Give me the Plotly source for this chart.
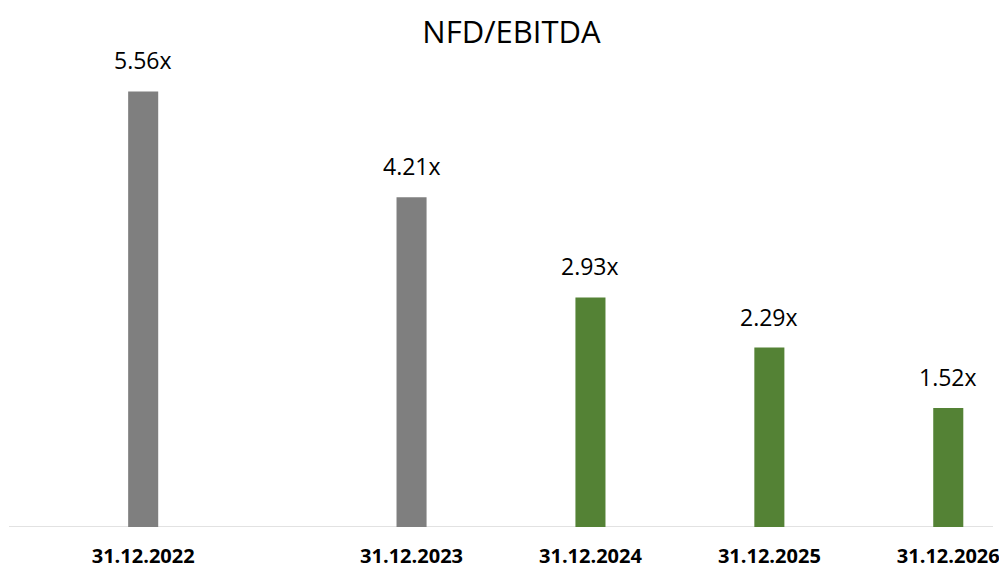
import plotly.graph_objects as go

categories = ["31.12.2022", "31.12.2023", "31.12.2024", "31.12.2025", "31.12.2026"]
positions = [0, 1.5, 2.5, 3.5, 4.5]
values = [5.56, 4.21, 2.93, 2.29, 1.52]
labels = ["5.56x", "4.21x", "2.93x", "2.29x", "1.52x"]
colors = ["#7f7f7f", "#7f7f7f", "#548235", "#548235", "#548235"]

fig = go.Figure()
fig.add_trace(go.Bar(
    x=positions, y=values, marker=dict(color=colors, line=dict(width=0)),
    width=0.168, hoverinfo="skip"
))
for xp, v, t in zip(positions, values, labels):
    fig.add_annotation(x=xp, y=v, text=t, showarrow=False, yanchor="bottom",
                       yshift=13, font=dict(size=23, color="#000000", family="Open Sans"))

fig.update_layout(
    width=1007, height=568,
    margin=dict(l=1, r=22, t=49, b=49),
    paper_bgcolor="white", plot_bgcolor="white",
    title=dict(text="NFD/EBITDA", x=0.5, xanchor="center", y=0.958, yanchor="middle",
               font=dict(size=31, color="#000000", family="Open Sans")),
    showlegend=False,
    xaxis=dict(range=[-0.75, 4.75], tickvals=positions, ticktext=categories,
               showgrid=False, zeroline=False, showline=False, ticks="",
               ticklabelstandoff=15,
               tickfont=dict(size=20, color="#000000", family="Open Sans", weight="bold")),
    yaxis=dict(range=[0, 6], visible=False, showgrid=False, zeroline=False),
)
fig.add_shape(type="line", xref="paper", yref="y", x0=0, x1=1, y0=0, y1=0,
              line=dict(color="#d9d9d9", width=1.5), layer="below")
fig.write_html("out.html")
